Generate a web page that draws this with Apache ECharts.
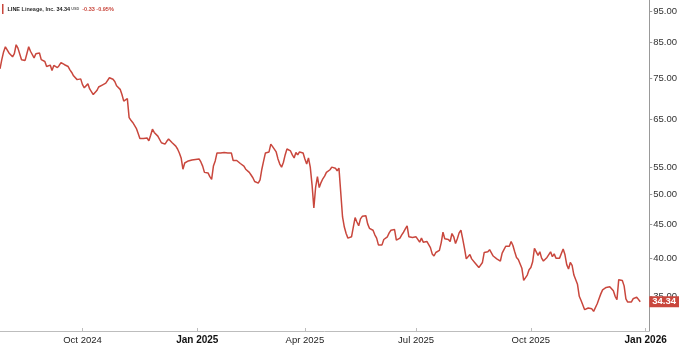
<!DOCTYPE html>
<html>
<head>
<meta charset="utf-8">
<script src="https://cdn.jsdelivr.net/npm/echarts@6/dist/echarts.min.js"></script>
<style>
html,body{margin:0;padding:0;background:#fff;}
#chart{width:680px;height:345px;}
</style>
</head>
<body>
<div id="chart"></div>
<script>
// ---- data ----
const dates = [
'2024-07-26','2024-07-29','2024-07-30','2024-07-31',
'2024-08-01','2024-08-02','2024-08-06','2024-08-07','2024-08-08','2024-08-09','2024-08-13','2024-08-15','2024-08-16','2024-08-19','2024-08-20','2024-08-21','2024-08-22','2024-08-23','2024-08-26','2024-08-27','2024-08-28','2024-08-30',
'2024-09-03','2024-09-04','2024-09-05','2024-09-06','2024-09-09','2024-09-10','2024-09-11','2024-09-12','2024-09-13','2024-09-16','2024-09-17','2024-09-18','2024-09-19','2024-09-20','2024-09-23','2024-09-24','2024-09-25','2024-09-26','2024-09-27','2024-09-30',
'2024-10-01','2024-10-02','2024-10-03','2024-10-04','2024-10-07','2024-10-08','2024-10-09','2024-10-10','2024-10-11','2024-10-14','2024-10-15','2024-10-16','2024-10-17','2024-10-18','2024-10-21','2024-10-22','2024-10-23','2024-10-24','2024-10-25','2024-10-28','2024-10-29','2024-10-30','2024-10-31',
'2024-11-01','2024-11-04','2024-11-05','2024-11-06','2024-11-07','2024-11-08','2024-11-11','2024-11-12','2024-11-13','2024-11-14','2024-11-15','2024-11-18','2024-11-19','2024-11-20','2024-11-21','2024-11-22','2024-11-25','2024-11-26','2024-11-27','2024-11-29',
'2024-12-02','2024-12-03','2024-12-04','2024-12-05','2024-12-06','2024-12-09','2024-12-10','2024-12-11','2024-12-12','2024-12-13','2024-12-16','2024-12-17','2024-12-18','2024-12-19','2024-12-20','2024-12-23','2024-12-24','2024-12-26','2024-12-27','2024-12-30','2024-12-31',
'2025-01-02','2025-01-03','2025-01-06','2025-01-07','2025-01-08','2025-01-10','2025-01-13','2025-01-14','2025-01-15','2025-01-16','2025-01-17','2025-01-21','2025-01-22','2025-01-23','2025-01-24','2025-01-27','2025-01-28','2025-01-29','2025-01-30','2025-01-31',
'2025-02-03','2025-02-04','2025-02-05','2025-02-06','2025-02-07','2025-02-10','2025-02-11','2025-02-12','2025-02-13','2025-02-14','2025-02-18','2025-02-19','2025-02-20','2025-02-21','2025-02-24','2025-02-25','2025-02-26','2025-02-27','2025-02-28',
'2025-03-03','2025-03-04','2025-03-05','2025-03-06','2025-03-07','2025-03-10','2025-03-11','2025-03-12','2025-03-13','2025-03-14','2025-03-17','2025-03-18','2025-03-19','2025-03-20','2025-03-21','2025-03-24','2025-03-25','2025-03-26','2025-03-27','2025-03-28','2025-03-31',
'2025-04-01','2025-04-02','2025-04-03','2025-04-04','2025-04-07','2025-04-08','2025-04-09','2025-04-10','2025-04-11','2025-04-14','2025-04-15','2025-04-16','2025-04-17','2025-04-21','2025-04-22','2025-04-23','2025-04-24','2025-04-25','2025-04-28','2025-04-29','2025-04-30',
'2025-05-01','2025-05-02','2025-05-05','2025-05-06','2025-05-07','2025-05-08','2025-05-09','2025-05-12','2025-05-13','2025-05-14','2025-05-15','2025-05-16','2025-05-19','2025-05-20','2025-05-21','2025-05-22','2025-05-23','2025-05-27','2025-05-28','2025-05-29','2025-05-30',
'2025-06-02','2025-06-03','2025-06-04','2025-06-05','2025-06-06','2025-06-09','2025-06-10','2025-06-11','2025-06-12','2025-06-13','2025-06-16','2025-06-17','2025-06-18','2025-06-20','2025-06-23','2025-06-24','2025-06-25','2025-06-26','2025-06-27','2025-06-30',
'2025-07-01','2025-07-02','2025-07-03','2025-07-07','2025-07-08','2025-07-09','2025-07-10','2025-07-11','2025-07-14','2025-07-15','2025-07-16','2025-07-17','2025-07-18','2025-07-21','2025-07-22','2025-07-23','2025-07-24','2025-07-25','2025-07-28','2025-07-29','2025-07-30','2025-07-31',
'2025-08-01','2025-08-04','2025-08-05','2025-08-06','2025-08-07','2025-08-08','2025-08-11','2025-08-12','2025-08-13','2025-08-14','2025-08-15','2025-08-18','2025-08-19','2025-08-20','2025-08-21','2025-08-22','2025-08-25','2025-08-26','2025-08-27','2025-08-28','2025-08-29',
'2025-09-02','2025-09-03','2025-09-04','2025-09-05','2025-09-08','2025-09-09','2025-09-10','2025-09-11','2025-09-12','2025-09-15','2025-09-16','2025-09-17','2025-09-18','2025-09-19','2025-09-22','2025-09-23','2025-09-24','2025-09-25','2025-09-26','2025-09-29','2025-09-30',
'2025-10-01','2025-10-02','2025-10-03','2025-10-06','2025-10-07','2025-10-08','2025-10-09','2025-10-10','2025-10-13','2025-10-14','2025-10-15','2025-10-16','2025-10-17','2025-10-20','2025-10-21','2025-10-22','2025-10-23','2025-10-24','2025-10-27','2025-10-28','2025-10-29','2025-10-30','2025-10-31',
'2025-11-03','2025-11-04','2025-11-05','2025-11-06','2025-11-07','2025-11-10','2025-11-11','2025-11-12','2025-11-13','2025-11-14','2025-11-17','2025-11-18','2025-11-19','2025-11-20','2025-11-21','2025-11-24','2025-11-25','2025-11-26','2025-11-28',
'2025-12-01','2025-12-02','2025-12-03','2025-12-04','2025-12-05','2025-12-08','2025-12-09','2025-12-10','2025-12-11','2025-12-12','2025-12-15','2025-12-16','2025-12-17','2025-12-18','2025-12-19','2025-12-22','2025-12-23','2025-12-24','2025-12-26','2025-12-29'
];
const prices = [
77.6,80.1,82.3,83.8,
82.9,82.0,80.9,81.8,84.4,83.4,80.1,79.9,80.1,83.8,82.5,82.2,80.6,81.8,81.5,82.0,80.1,79.6,
78.2,77.7,78.6,77.1,78.5,78.2,77.9,78.5,79.3,78.8,78.7,78.6,78.2,77.3,76.6,75.7,75.2,74.7,74.5,74.9,
73.4,72.6,73.1,73.6,72.3,71.9,70.9,71.1,71.9,72.8,73.0,73.3,73.0,73.8,74.2,75.2,75.5,74.8,74.2,73.1,72.9,72.2,70.9,
69.3,69.0,69.9,65.4,64.8,64.3,63.9,63.0,61.9,60.8,60.6,60.8,60.8,60.9,60.3,61.5,62.8,62.1,61.7,61.3,
60.9,59.9,59.9,59.6,60.2,60.7,60.3,59.9,59.6,59.2,58.6,57.8,56.8,54.6,55.8,56.0,56.2,56.4,56.4,56.4,56.5,
56.7,56.6,56.0,55.2,54.0,53.7,53.9,53.2,52.7,55.2,56.2,57.8,58.0,57.8,57.9,57.9,57.8,57.8,57.9,57.8,
56.3,56.6,56.3,56.0,55.7,55.4,55.2,54.6,54.3,54.0,53.5,53.0,52.3,52.2,52.0,52.6,54.6,56.2,57.8,
58.1,58.0,59.6,59.1,59.0,58.0,56.6,55.6,55.0,55.9,57.4,58.6,58.5,58.2,57.4,56.8,57.9,57.4,58.0,57.6,57.8,
56.6,55.6,56.8,55.0,51.7,47.7,51.3,53.2,51.2,52.1,52.8,53.3,54.0,53.9,54.5,55.0,55.1,54.8,54.3,54.8,54.6,
46.2,44.6,43.6,42.9,42.7,43.1,44.6,46.1,45.4,44.8,45.9,46.3,46.4,46.4,45.1,44.4,44.2,44.1,43.4,42.9,41.9,
41.8,41.9,42.7,42.8,43.1,43.7,44.1,44.2,44.2,42.6,42.7,42.9,43.4,43.8,44.3,44.8,43.1,43.4,43.0,42.8,
43.1,43.0,42.3,42.9,42.3,42.5,42.4,42.3,41.5,40.6,40.3,40.8,40.9,41.1,42.2,43.8,42.8,43.0,42.7,42.4,43.6,43.1,
42.1,42.8,43.7,44.1,42.8,41.4,39.9,39.8,40.5,39.9,40.1,39.3,39.4,38.7,38.6,39.4,40.8,40.7,40.9,41.2,41.0,
40.3,40.1,39.9,39.7,39.6,40.7,41.2,41.7,41.5,41.7,42.4,41.8,40.9,40.1,39.8,39.8,38.6,37.0,37.1,37.7,38.4,
38.7,39.5,41.4,41.3,40.4,40.9,40.0,39.6,39.6,40.1,40.2,40.9,40.2,40.6,40.0,40.1,40.0,40.2,41.3,40.5,39.1,38.5,39.4,
39.0,37.7,37.5,36.5,35.0,34.5,34.3,33.4,33.5,33.6,33.6,33.5,33.2,33.0,34.1,34.7,35.3,35.8,35.8,
36.1,36.3,36.2,36.0,35.7,35.0,34.6,37.1,37.1,37.0,36.3,34.7,34.3,34.5,34.3,34.7,34.6,34.9,34.67,34.34
];
const priceTicks = [35, 40, 45, 50, 55, 65, 75, 85, 95];
const holidays = ['2024-09-02','2024-11-28','2024-12-25','2025-01-01','2025-01-09','2025-01-20','2025-02-17',
  '2025-04-18','2025-05-26','2025-06-19','2025-07-04','2025-09-01','2025-11-27','2025-12-25','2026-01-01'];
const monthNames = ['Jan','Feb','Mar','Apr','May','Jun','Jul','Aug','Sep','Oct','Nov','Dec'];
const lastPrice = 34.34;
const change = '-0.33';
const changePct = '-0.95%';

// trading-day category axis
function buildTradingDays(start, end) {
  const out = [];
  const d = new Date(start + 'T00:00:00Z');
  const e = new Date(end + 'T00:00:00Z');
  while (d <= e) {
    const wd = d.getUTCDay();
    const s = d.toISOString().slice(0, 10);
    if (wd !== 0 && wd !== 6 && holidays.indexOf(s) < 0) out.push(s);
    d.setUTCDate(d.getUTCDate() + 1);
  }
  return out;
}
const categories = buildTradingDays('2024-07-26', '2026-01-06');
const quarterStart = new Set();
for (let i = 1; i < categories.length; i++) {
  const m = +categories[i].slice(5, 7);
  const pm = +categories[i - 1].slice(5, 7);
  if (m !== pm && (m - 1) % 3 === 0) quarterStart.add(i);
}
const showTick = (idx) => quarterStart.has(idx);

const RED = '#c9473d';
const chart = echarts.init(document.getElementById('chart'), null, { renderer: 'canvas' });
chart.setOption({
  animation: false,
  backgroundColor: '#ffffff',
  title: {
    left: 2, top: 4, padding: 0,
    text: '{bar|}{sym|LINE} {name|Lineage, Inc.} {px|' + lastPrice.toFixed(2) + '}{cur| USD}  {chg|' + change + '} {chg|' + changePct + '}',
    textStyle: {
      fontSize: 5.5,
      rich: {
        bar: { backgroundColor: RED, width: 1.5, height: 10 },
        sym: { fontSize: 5.5, fontWeight: 'bold', color: '#222', fontFamily: 'Arial', padding: [0, 0, 0, 4] },
        name: { fontSize: 5.5, fontWeight: 'bold', color: '#333', fontFamily: 'Arial' },
        px: { fontSize: 5.5, fontWeight: 'bold', color: '#222', fontFamily: 'Arial' },
        cur: { fontSize: 3.8, color: '#666', fontFamily: 'Arial' },
        chg: { fontSize: 5.5, color: RED, fontFamily: 'Arial' }
      }
    }
  },
  grid: { left: 0, right: 29, top: 0, bottom: 12, containLabel: false },
  xAxis: {
    type: 'category',
    data: categories,
    boundaryGap: false,
    axisLine: { lineStyle: { color: '#bdbdbd', width: 1 } },
    axisTick: { show: true, inside: true, length: 3, interval: showTick, lineStyle: { color: '#bdbdbd' } },
    axisLabel: {
      interval: showTick,
      margin: 4,
      color: '#222',
      fontSize: 9.5,
      fontFamily: 'Arial',
      formatter: function (v) {
        const m = +v.slice(5, 7) - 1;
        const t = monthNames[m] + ' ' + v.slice(0, 4);
        return m === 0 ? '{b|' + t + '}' : t;
      },
      rich: { b: { fontWeight: 'bold', fontSize: 10, color: '#111', fontFamily: 'Arial' } }
    },
    splitLine: { show: false }
  },
  yAxis: {
    type: 'log',
    logBase: 10,
    position: 'right',
    min: 31.0,
    max: 98.7,
    axisLine: { show: true, lineStyle: { color: '#999', width: 1 } },
    axisTick: { show: true, length: 3, customValues: priceTicks, lineStyle: { color: '#999' } },
    axisLabel: {
      customValues: priceTicks,
      margin: 4,
      color: '#333',
      fontSize: 9.5,
      fontFamily: 'Arial',
      formatter: function (v) { return Number(v).toFixed(2); }
    },
    splitLine: { show: false },
    minorTick: { show: false }
  },
  series: [{
    type: 'line',
    data: dates.map((d, i) => [d, prices[i]]),
    showSymbol: false,
    symbol: 'none',
    lineStyle: { color: RED, width: 1.5 },
    markLine: {
      silent: true,
      symbol: 'none',
      animation: false,
      lineStyle: { color: 'rgba(0,0,0,0)', width: 0, type: 'solid' },
      data: [{ yAxis: lastPrice }],
      label: {
        show: true,
        position: 'end',
        distance: 0,
        formatter: lastPrice.toFixed(2),
        backgroundColor: RED,
        color: '#fff',
        opacity: 1,
        fontSize: 9.5,
        fontFamily: 'Arial',
        fontWeight: 'bold',
        padding: [1, 3, 0, 3]
      }
    }
  }]
});
</script>
</body>
</html>
